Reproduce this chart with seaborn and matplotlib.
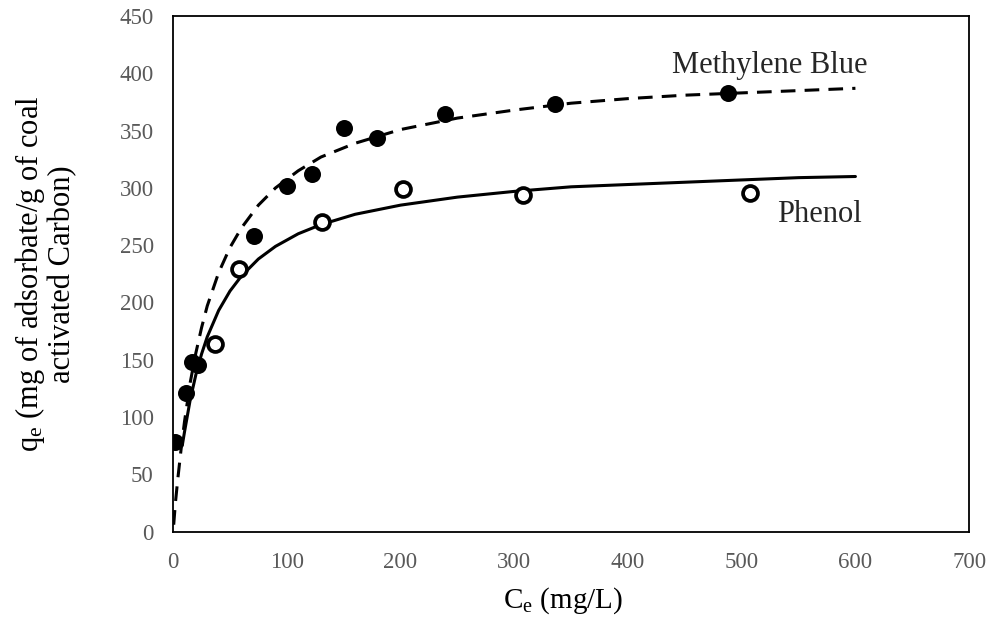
import numpy as np
import pandas as pd
import seaborn as sns
import matplotlib.pyplot as plt

mb_ce = [2, 11, 17, 22, 71, 100, 122, 150, 179, 239, 336, 488]
mb_qe = [78, 121, 148, 145, 258, 302, 312, 352, 344, 365, 373, 383]
ph_ce = [37, 58, 131, 202, 308, 507]
ph_qe = [164, 229, 270, 299, 294, 296]

# fitted curves
mb_fit_ce = [0.5, 2, 4, 7, 10, 15, 20, 25, 30, 40, 50, 60, 75, 90, 110, 130,
             160, 200, 250, 300, 350, 400, 450, 500, 550, 600]
mb_fit_qe = [6, 25, 45, 72, 96, 130, 156, 178, 197, 226, 248, 265, 285, 300,
             315, 327, 339, 351, 361, 368, 374, 378, 381, 383, 385, 387]
ph_fit_ce = [8, 10, 15, 20, 25, 30, 40, 50, 60, 75, 90, 110, 130, 160, 200,
             250, 300, 350, 400, 450, 500, 550, 600]
ph_fit_qe = [75, 87, 115, 137, 155, 170, 193, 210, 223, 238, 249, 260, 268,
             277, 285, 292, 297, 301, 303, 305, 307, 309, 310]

sns.set_theme(style='white')
plt.rcParams['font.family'] = ['Liberation Serif', 'DejaVu Serif']

fig, ax = plt.subplots(figsize=(9.95, 6.21), dpi=100)
fig.subplots_adjust(left=0.174, right=0.974, bottom=0.144, top=0.974)

sns.lineplot(x=mb_fit_ce, y=mb_fit_qe, color='black', lw=2.2, ax=ax, zorder=2)
ax.lines[-1].set_dashes([4.8, 3.0])
sns.lineplot(x=ph_fit_ce, y=ph_fit_qe, color='black', lw=2.2, ax=ax, zorder=2)

sns.scatterplot(x=mb_ce, y=mb_qe, color='black', s=150, marker='o',
                edgecolor='black', linewidth=0, ax=ax, zorder=3)
sns.scatterplot(x=ph_ce, y=ph_qe, color='white', s=115, marker='o',
                edgecolor='black', linewidth=2.7, ax=ax, zorder=3)

ax.text(525, 400, 'Methylene Blue', fontsize=22, ha='center', va='baseline')
ax.text(568, 270, 'Phenol', fontsize=22, ha='center', va='baseline')

ax.set_xlim(0, 700)
ax.set_ylim(0, 450)
ax.set_xticks(np.arange(0, 701, 100))
ax.set_yticks(np.arange(0, 451, 50))
ax.tick_params(axis='both', length=0, labelsize=16.5, labelcolor='#595959')
ax.tick_params(axis='x', pad=15)
ax.tick_params(axis='y', pad=14)
for sp in ax.spines.values():
    sp.set_visible(True)
    sp.set_color('black')
    sp.set_linewidth(1.3)

ax.set_xlabel(r'$\mathregular{C_e}$ (mg/L)', fontsize=21, color='black')
ax.xaxis.set_label_coords(0.49, -0.105)
ax.set_ylabel('$\\mathregular{q_e}$ (mg of adsorbate/g of coal\nactivated Carbon)',
              fontsize=22, color='black', linespacing=1.05)
ax.yaxis.set_label_coords(-0.12, 0.5)

fig.savefig('out.png', dpi=100)
